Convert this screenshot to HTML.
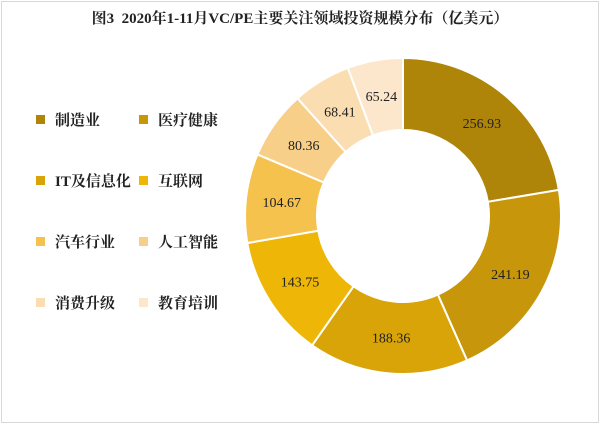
<!DOCTYPE html>
<html><head><meta charset="utf-8">
<style>
body{margin:0;background:#fff;}
#wrap{position:relative;width:600px;height:424px;overflow:hidden;background:#fff;font-family:"Liberation Serif","Noto Serif CJK SC",serif;}
#frame{position:absolute;left:1px;top:1px;width:596px;height:420px;border:1px solid #d8d8d8;}
#title{position:absolute;left:0;width:600px;top:7px;text-align:center;font-size:15px;font-weight:bold;color:#222;}
.leg{position:absolute;font-size:15px;font-weight:bold;color:#222;font-family:"Liberation Serif","Noto Serif CJK SC",serif;}
.sw{display:inline-block;width:9px;height:9px;margin-right:10px;vertical-align:1px;}
</style></head><body>
<div id="wrap">
<div id="frame"></div>
<div id="title">图3 &nbsp;2020年1-11月VC/PE主要关注领域投资规模分布（亿美元）</div>
<div id="legend"></div>
<svg id="chart" width="600" height="424" style="position:absolute;left:0;top:0"></svg>
</div>
<script>
const categories=["制造业","医疗健康","IT及信息化","互联网","汽车行业","人工智能","消费升级","教育培训"];
const values=[256.93,241.19,188.36,143.75,104.67,80.36,68.41,65.24];
const colors=["#AE8508","#C8960A","#D8A408","#EEB606","#F6C24E","#F8CF88","#FADDB0","#FCE7CC"];
const svg=document.getElementById('chart');const NS="http://www.w3.org/2000/svg";
const cx=403,cy=216,R=158,r=86;
const total=values.reduce((a,b)=>a+b,0);
let ang=0;
function pt(a,rad){return [cx+rad*Math.sin(a),cy-rad*Math.cos(a)];}
values.forEach((v,i)=>{
  const a0=ang,a1=ang+v/total*2*Math.PI;ang=a1;
  const lg=(a1-a0)>Math.PI?1:0;
  const [x0,y0]=pt(a0,R),[x1,y1]=pt(a1,R),[x2,y2]=pt(a1,r),[x3,y3]=pt(a0,r);
  const p=document.createElementNS(NS,'path');
  p.setAttribute('d',`M${x0},${y0}A${R},${R} 0 ${lg} 1 ${x1},${y1}L${x2},${y2}A${r},${r} 0 ${lg} 0 ${x3},${y3}Z`);
  p.setAttribute('fill',colors[i]);p.setAttribute('stroke','#fff');p.setAttribute('stroke-width','2');
  
  
  svg.appendChild(p);
  const [tx,ty]=pt((a0+a1)/2,(R+r)/2);
  const t=document.createElementNS(NS,'text');
  t.setAttribute('x',tx);t.setAttribute('y',ty+5);t.setAttribute('text-anchor','middle');
  t.setAttribute('font-family','Liberation Serif, serif');t.setAttribute('font-size','14');t.setAttribute('fill','#222');
  t.textContent=v.toFixed(2);
  
  
  svg.appendChild(t);
});
const leg=document.getElementById('legend');
categories.forEach((c,i)=>{
  const d=document.createElement('div');d.className='leg';
  d.style.left=(i%2?139:36)+'px';d.style.top=(109+Math.floor(i/2)*61)+'px';
  d.innerHTML=`<span class="sw" style="background:${colors[i]}"></span>${c}`;
  
  
  leg.appendChild(d);
});
</script>
</body></html>
